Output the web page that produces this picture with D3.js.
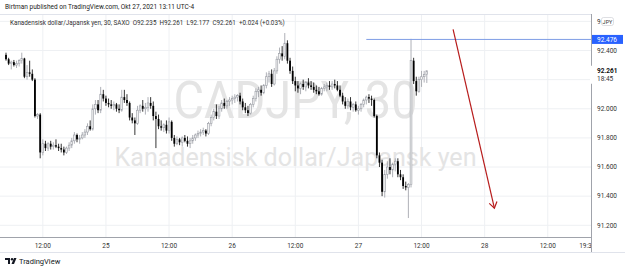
<!DOCTYPE html>
<html>
<head>
<meta charset="utf-8">
<script src="https://cdn.jsdelivr.net/npm/d3@7"></script>
<style>
  body { margin: 0; background: #fff; }
  svg { display: block; font-family: Roboto, "DejaVu Sans", sans-serif; }
</style>
</head>
<body>
<svg id="chart" width="625" height="271"></svg>
<script>
// CADJPY 30 min bars (bar index 0 = first visible bar)
let opens = [
  92.37, 92.34, 92.31, 92.32, 92.30, 92.31, 92.33, 92.345, 92.22, 92.25,
  92.24, 92.20, 91.95, 91.96, 91.70, 91.76, 91.73, 91.76, 91.74, 91.75,
  91.74, 91.73, 91.72, 91.70, 91.73, 91.75, 91.78, 91.82, 91.79, 91.80,
  91.82, 91.84, 91.88, 91.86, 92.00, 92.03, 91.99, 92.10, 92.07, 92.04,
  92.03, 92.02, 92.03, 92.00, 91.99, 92.08, 92.06, 92.04, 91.94, 91.92,
  91.90, 91.99, 92.02, 92.00, 92.01, 92.04, 92.02, 91.95, 91.93, 91.88,
  91.87, 91.89, 91.85, 91.91, 91.80, 91.76, 91.79, 91.77, 91.80, 91.78,
  91.76, 91.78, 91.80, 91.82, 91.83, 91.84, 91.85, 91.83, 91.90, 91.94,
  91.98, 91.95, 92.00, 92.04, 92.02, 92.05, 92.06, 92.07, 92.08, 92.09,
  92.05, 92.01, 91.99, 91.97, 92.03, 92.07, 92.12, 92.13, 92.11, 92.16,
  92.22, 92.24, 92.17, 92.26, 92.34, 92.38, 92.36, 92.45, 92.33, 92.26,
  92.19, 92.16, 92.14, 92.17, 92.15, 92.18, 92.16, 92.15, 92.13, 92.12,
  92.10, 92.14, 92.15, 92.16, 92.15, 92.17, 92.16, 92.13, 92.09, 92.05,
  92.02, 92.05, 92.01, 92.03, 91.99, 92.00, 92.03, 92.06, 92.08, 92.07,
  92.06, 91.95, 91.68, 91.63, 91.43, 91.55, 91.60, 91.58, 91.62, 91.64,
  91.55, 91.53, 91.47, 91.46, 91.48, 92.33, 92.19, 92.12, 92.20, 92.22,
  92.235
];
let highs = [
  92.385, 92.35, 92.33, 92.335, 92.33, 92.34, 92.385, 92.35, 92.30, 92.33,
  92.27, 92.21, 91.97, 91.97, 91.79, 91.78, 91.77, 91.78, 91.77, 91.79,
  91.76, 91.76, 91.74, 91.74, 91.77, 91.80, 91.84, 91.83, 91.82, 91.84,
  91.86, 91.90, 91.92, 92.03, 92.06, 92.06, 92.15, 92.13, 92.09, 92.07,
  92.06, 92.05, 92.04, 92.03, 92.13, 92.13, 92.10, 92.05, 91.97, 91.94,
  92.02, 92.03, 92.06, 92.04, 92.08, 92.08, 92.05, 91.98, 91.96, 91.92,
  91.90, 91.92, 91.94, 91.92, 91.82, 91.81, 91.80, 91.81, 91.82, 91.81,
  91.80, 91.82, 91.83, 91.85, 91.86, 91.87, 91.86, 91.91, 91.96, 92.00,
  92.03, 92.02, 92.06, 92.07, 92.06, 92.08, 92.09, 92.10, 92.10, 92.11,
  92.07, 92.04, 92.02, 92.04, 92.09, 92.14, 92.15, 92.16, 92.17, 92.25,
  92.26, 92.27, 92.28, 92.36, 92.42, 92.43, 92.52, 92.47, 92.35, 92.29,
  92.22, 92.19, 92.18, 92.20, 92.19, 92.21, 92.19, 92.18, 92.16, 92.15,
  92.15, 92.17, 92.18, 92.19, 92.19, 92.20, 92.19, 92.16, 92.11, 92.08,
  92.07, 92.08, 92.04, 92.05, 92.02, 92.04, 92.07, 92.09, 92.10, 92.09,
  92.07, 91.96, 91.70, 91.65, 91.58, 91.64, 91.66, 91.63, 91.66, 91.66,
  91.58, 91.55, 91.50, 91.49, 92.48, 92.35, 92.22, 92.22, 92.26, 92.26,
  92.261
];
let lows = [
  92.33, 92.30, 92.27, 92.29, 92.28, 92.29, 92.31, 92.21, 92.20, 92.22,
  92.19, 91.94, 91.93, 91.66, 91.68, 91.71, 91.71, 91.72, 91.72, 91.73,
  91.71, 91.70, 91.68, 91.69, 91.71, 91.73, 91.76, 91.77, 91.76, 91.79,
  91.80, 91.82, 91.85, 91.85, 91.96, 91.97, 91.97, 92.05, 92.02, 92.01,
  92.00, 91.99, 91.98, 91.97, 91.98, 92.04, 92.02, 91.92, 91.90, 91.82,
  91.89, 91.97, 91.98, 91.96, 91.98, 92.00, 91.92, 91.73, 91.86, 91.85,
  91.84, 91.83, 91.83, 91.78, 91.74, 91.75, 91.75, 91.74, 91.77, 91.74,
  91.73, 91.76, 91.78, 91.80, 91.81, 91.82, 91.81, 91.82, 91.88, 91.92,
  91.93, 91.93, 91.98, 92.00, 92.00, 92.02, 92.03, 92.04, 92.05, 92.03,
  91.99, 91.97, 91.95, 91.96, 92.01, 92.05, 92.08, 92.09, 92.10, 92.14,
  92.18, 92.15, 92.16, 92.24, 92.31, 92.33, 92.34, 92.31, 92.24, 92.17,
  92.12, 92.11, 92.10, 92.13, 92.12, 92.14, 92.13, 92.11, 92.10, 92.09,
  92.09, 92.12, 92.12, 92.13, 92.13, 92.14, 92.12, 92.08, 92.03, 92.00,
  92.00, 91.99, 91.98, 91.98, 91.96, 91.98, 92.01, 92.03, 92.04, 92.02,
  91.94, 91.66, 91.60, 91.40, 91.39, 91.52, 91.55, 91.53, 91.57, 91.53,
  91.51, 91.45, 91.44, 91.25, 91.46, 92.17, 92.09, 92.11, 92.15, 92.18,
  92.177
];
let closes = [
  92.34, 92.31, 92.32, 92.30, 92.31, 92.33, 92.345, 92.22, 92.25, 92.24,
  92.20, 91.95, 91.96, 91.70, 91.76, 91.73, 91.76, 91.74, 91.75, 91.74,
  91.73, 91.72, 91.70, 91.73, 91.75, 91.78, 91.82, 91.79, 91.80, 91.82,
  91.84, 91.88, 91.86, 92.00, 92.03, 91.99, 92.10, 92.07, 92.04, 92.03,
  92.02, 92.03, 92.00, 91.99, 92.08, 92.06, 92.04, 91.94, 91.92, 91.90,
  91.99, 92.02, 92.00, 92.01, 92.04, 92.02, 91.95, 91.93, 91.88, 91.87,
  91.89, 91.85, 91.91, 91.80, 91.76, 91.79, 91.77, 91.80, 91.78, 91.76,
  91.78, 91.80, 91.82, 91.83, 91.84, 91.85, 91.83, 91.90, 91.94, 91.98,
  91.95, 92.00, 92.04, 92.02, 92.05, 92.06, 92.07, 92.08, 92.09, 92.05,
  92.01, 91.99, 91.97, 92.03, 92.07, 92.12, 92.13, 92.11, 92.16, 92.22,
  92.24, 92.17, 92.26, 92.34, 92.38, 92.36, 92.45, 92.33, 92.26, 92.19,
  92.16, 92.14, 92.17, 92.15, 92.18, 92.16, 92.15, 92.13, 92.12, 92.10,
  92.14, 92.15, 92.16, 92.15, 92.17, 92.16, 92.13, 92.09, 92.05, 92.02,
  92.05, 92.01, 92.03, 91.99, 92.00, 92.03, 92.06, 92.08, 92.07, 92.06,
  91.95, 91.68, 91.63, 91.43, 91.55, 91.60, 91.58, 91.62, 91.64, 91.55,
  91.53, 91.47, 91.46, 91.48, 92.33, 92.19, 92.12, 92.20, 92.22, 92.235,
  92.261
];

// time axis
let tickBars = [14, 38, 62, 86, 110, 134, 158, 182, 206, 221];
let tickLabels = ["12:00", "25", "12:00", "26", "12:00", "27", "12:00", "28", "12:00", "19:30"];
// price axis (92.200 hidden behind the last price label, 92.600 mostly behind the JPY badge)
let priceTicks = [91.2, 91.4, 91.6, 91.8, 92.0, 92.2, 92.4, 92.6];
let priceTickLabels = ["91.200", "91.400", "91.600", "91.800", "92.000", "", "92.400", "9"];

// drawings: horizontal level + arrow (bar index, price)
let levelPrice = 92.476;
let levelStartBar = 137;
let arrowBars = [170, 185.7];
let arrowPrices = [92.545, 91.318];

let lastPrice = 92.261;
let countdown = "18:45";

let headerText = "Birtman published on TradingView.com, Okt 27, 2021 13:11 UTC-4";
let legendText = "Kanadensisk dollar/Japansk yen, 30, SAXO  O92.235  H92.261  L92.177  C92.261  +0.024 (+0.03%)";
let watermark1 = "CADJPY, 30";
let watermark2 = "Kanadensisk dollar/Japansk yen";

let W = 625, H = 271;
let plotLeft = 0, plotRight = 591, plotTop = 14, plotBottom = 237, axisBottom = 252;

let svg = d3.select("#chart");
let x = d3.scaleLinear().domain([0, 160]).range([6, 426.8]);
let y = d3.scaleLinear().domain([91.2, 92.4]).range([225.3, 50.5]);

svg.append("rect").attr("width", W).attr("height", H).attr("fill", "#fff");

svg.append("defs").append("clipPath").attr("id", "plotClip")
  .append("rect").attr("x", plotLeft).attr("y", plotTop)
  .attr("width", plotRight - plotLeft).attr("height", plotBottom - plotTop);

let plot = svg.append("g").attr("clip-path", "url(#plotClip)");

// grid
plot.selectAll(".hgrid").data(priceTicks).enter().append("line")
  .attr("x1", plotLeft).attr("x2", plotRight)
  .attr("y1", d => y(d)).attr("y2", d => y(d))
  .attr("stroke", "#eef0f3").attr("stroke-width", 1);
plot.selectAll(".vgrid").data(tickBars.slice(0, -1)).enter().append("line")
  .attr("x1", d => x(d)).attr("x2", d => x(d))
  .attr("y1", plotTop).attr("y2", plotBottom)
  .attr("stroke", "#eef0f3").attr("stroke-width", 1);

// watermark
let cx = (plotLeft + plotRight) / 2;
plot.append("text").attr("x", cx).attr("y", 118).attr("text-anchor", "middle")
  .attr("font-size", 51).attr("fill", "#e4e4e4")
  .attr("textLength", 244).attr("lengthAdjust", "spacingAndGlyphs").text(watermark1);
plot.append("text").attr("x", cx).attr("y", 166).attr("text-anchor", "middle")
  .attr("font-size", 26).attr("fill", "#e4e4e4")
  .attr("textLength", 362).attr("lengthAdjust", "spacingAndGlyphs").text(watermark2);

// candles
let bars = d3.range(closes.length);
let upWick = "#9a9da5";
plot.selectAll(".wick").data(bars).enter().append("line")
  .attr("x1", i => x(i)).attr("x2", i => x(i))
  .attr("y1", i => y(highs[i])).attr("y2", i => y(lows[i]))
  .attr("stroke", i => closes[i] >= opens[i] ? upWick : "#000")
  .attr("stroke-width", 0.8);
plot.selectAll(".body").data(bars).enter().append("rect")
  .attr("x", i => x(i) - 0.9).attr("width", 1.8)
  .attr("y", i => y(Math.max(opens[i], closes[i])))
  .attr("height", i => Math.max(0.8, Math.abs(y(opens[i]) - y(closes[i]))))
  .attr("fill", i => closes[i] >= opens[i] ? "#f2f2f2" : "#000")
  .attr("stroke", i => closes[i] >= opens[i] ? upWick : "none")
  .attr("stroke-width", 0.6);

// horizontal level line
plot.append("line")
  .attr("x1", x(levelStartBar)).attr("x2", plotRight)
  .attr("y1", y(levelPrice)).attr("y2", y(levelPrice))
  .attr("stroke", "#7f9de6").attr("stroke-width", 1);

// arrow
let ax0 = x(arrowBars[0]), ay0 = y(arrowPrices[0]);
let ax1 = x(arrowBars[1]), ay1 = y(arrowPrices[1]);
let ang = Math.atan2(ay1 - ay0, ax1 - ax0);
let headLen = 7, headAng = 0.6;
plot.append("path")
  .attr("d", d3.line()([[ax0, ay0], [ax1, ay1]]))
  .attr("stroke", "#b71c1c").attr("stroke-width", 1.2).attr("fill", "none");
plot.append("path")
  .attr("d", d3.line()([
    [ax1 - headLen * Math.cos(ang - headAng), ay1 - headLen * Math.sin(ang - headAng)],
    [ax1, ay1],
    [ax1 - headLen * Math.cos(ang + headAng), ay1 - headLen * Math.sin(ang + headAng)]
  ]))
  .attr("stroke", "#b71c1c").attr("stroke-width", 1.2).attr("fill", "none");

// axes frame
svg.append("line").attr("x1", 0).attr("x2", W).attr("y1", plotTop + 0.5).attr("y2", plotTop + 0.5)
  .attr("stroke", "#e0e3eb");
svg.append("line").attr("x1", 0).attr("x2", plotRight).attr("y1", plotBottom + 0.5).attr("y2", plotBottom + 0.5)
  .attr("stroke", "#a0a3ab");
svg.append("line").attr("x1", 0).attr("x2", W).attr("y1", axisBottom + 0.5).attr("y2", axisBottom + 0.5)
  .attr("stroke", "#e0e3eb");

// time labels
let timeG = svg.append("g");
timeG.selectAll("text").data(tickBars).enter().append("text")
  .attr("x", (d, i) => x(d)).attr("y", 247.5)
  .attr("text-anchor", "middle").attr("font-size", 6.5).attr("fill", "#333")
  .text((d, i) => tickLabels[i]);

// price axis
svg.append("rect").attr("x", plotRight).attr("y", plotTop).attr("width", W - plotRight)
  .attr("height", axisBottom - plotTop).attr("fill", "#fff");
svg.append("line").attr("x1", plotRight + 0.5).attr("x2", plotRight + 0.5)
  .attr("y1", plotTop).attr("y2", axisBottom).attr("stroke", "#a0a3ab");
svg.selectAll(".ptick").data(priceTicks).enter().append("text")
  .attr("x", 597).attr("y", d => y(d) + 2.3)
  .attr("font-size", 6.5).attr("fill", "#333")
  .text((d, i) => priceTickLabels[i]);

// currency badge next to the top label
svg.append("rect").attr("x", 601.5).attr("y", 17.5).attr("width", 12).attr("height", 8).attr("rx", 2)
  .attr("fill", "#fff").attr("stroke", "#c8cad0").attr("stroke-width", 0.6);
svg.append("text").attr("x", 607.5).attr("y", 23.6).attr("text-anchor", "middle")
  .attr("font-size", 5.5).attr("fill", "#333").text("JPY");

// level label
svg.append("rect").attr("x", plotRight + 1).attr("y", y(levelPrice) - 4.5).attr("width", 31).attr("height", 9)
  .attr("fill", "#2962ff");
svg.append("text").attr("x", 597).attr("y", y(levelPrice) + 2.3)
  .attr("font-size", 6.5).attr("fill", "#fff").text(levelPrice.toFixed(3));

// last price label
svg.append("rect").attr("x", plotRight - 1).attr("y", y(lastPrice) - 5).attr("width", 34).attr("height", 18)
  .attr("fill", "#fff");
svg.append("text").attr("x", 597).attr("y", y(lastPrice) + 2.3)
  .attr("font-size", 6.5).attr("fill", "#111").attr("font-weight", "bold").text(lastPrice.toFixed(3));
svg.append("text").attr("x", 597).attr("y", y(lastPrice) + 10.3)
  .attr("font-size", 6.5).attr("fill", "#333").text(countdown);

// header
svg.append("text").attr("x", 5).attr("y", 8.5).attr("font-size", 6.5).attr("fill", "#222").text(headerText);
svg.append("text").attr("x", 10).attr("y", 25).attr("font-size", 6.3).attr("fill", "#333")
  .attr("xml:space", "preserve").text(legendText);

// logo
let logo = svg.append("g").attr("transform", "translate(5,258)");
logo.append("path").attr("d", "M0,0H5V6H3V2H0Z").attr("fill", "#131722");
logo.append("circle").attr("cx", 7).attr("cy", 1.2).attr("r", 1.2).attr("fill", "#131722");
logo.append("path").attr("d", "M9,0H11.5L9,6H6.5Z").attr("fill", "#131722");
svg.append("text").attr("x", 19).attr("y", 264).attr("font-size", 7.5).attr("fill", "#131722").text("TradingView");
</script>
</body>
</html>
